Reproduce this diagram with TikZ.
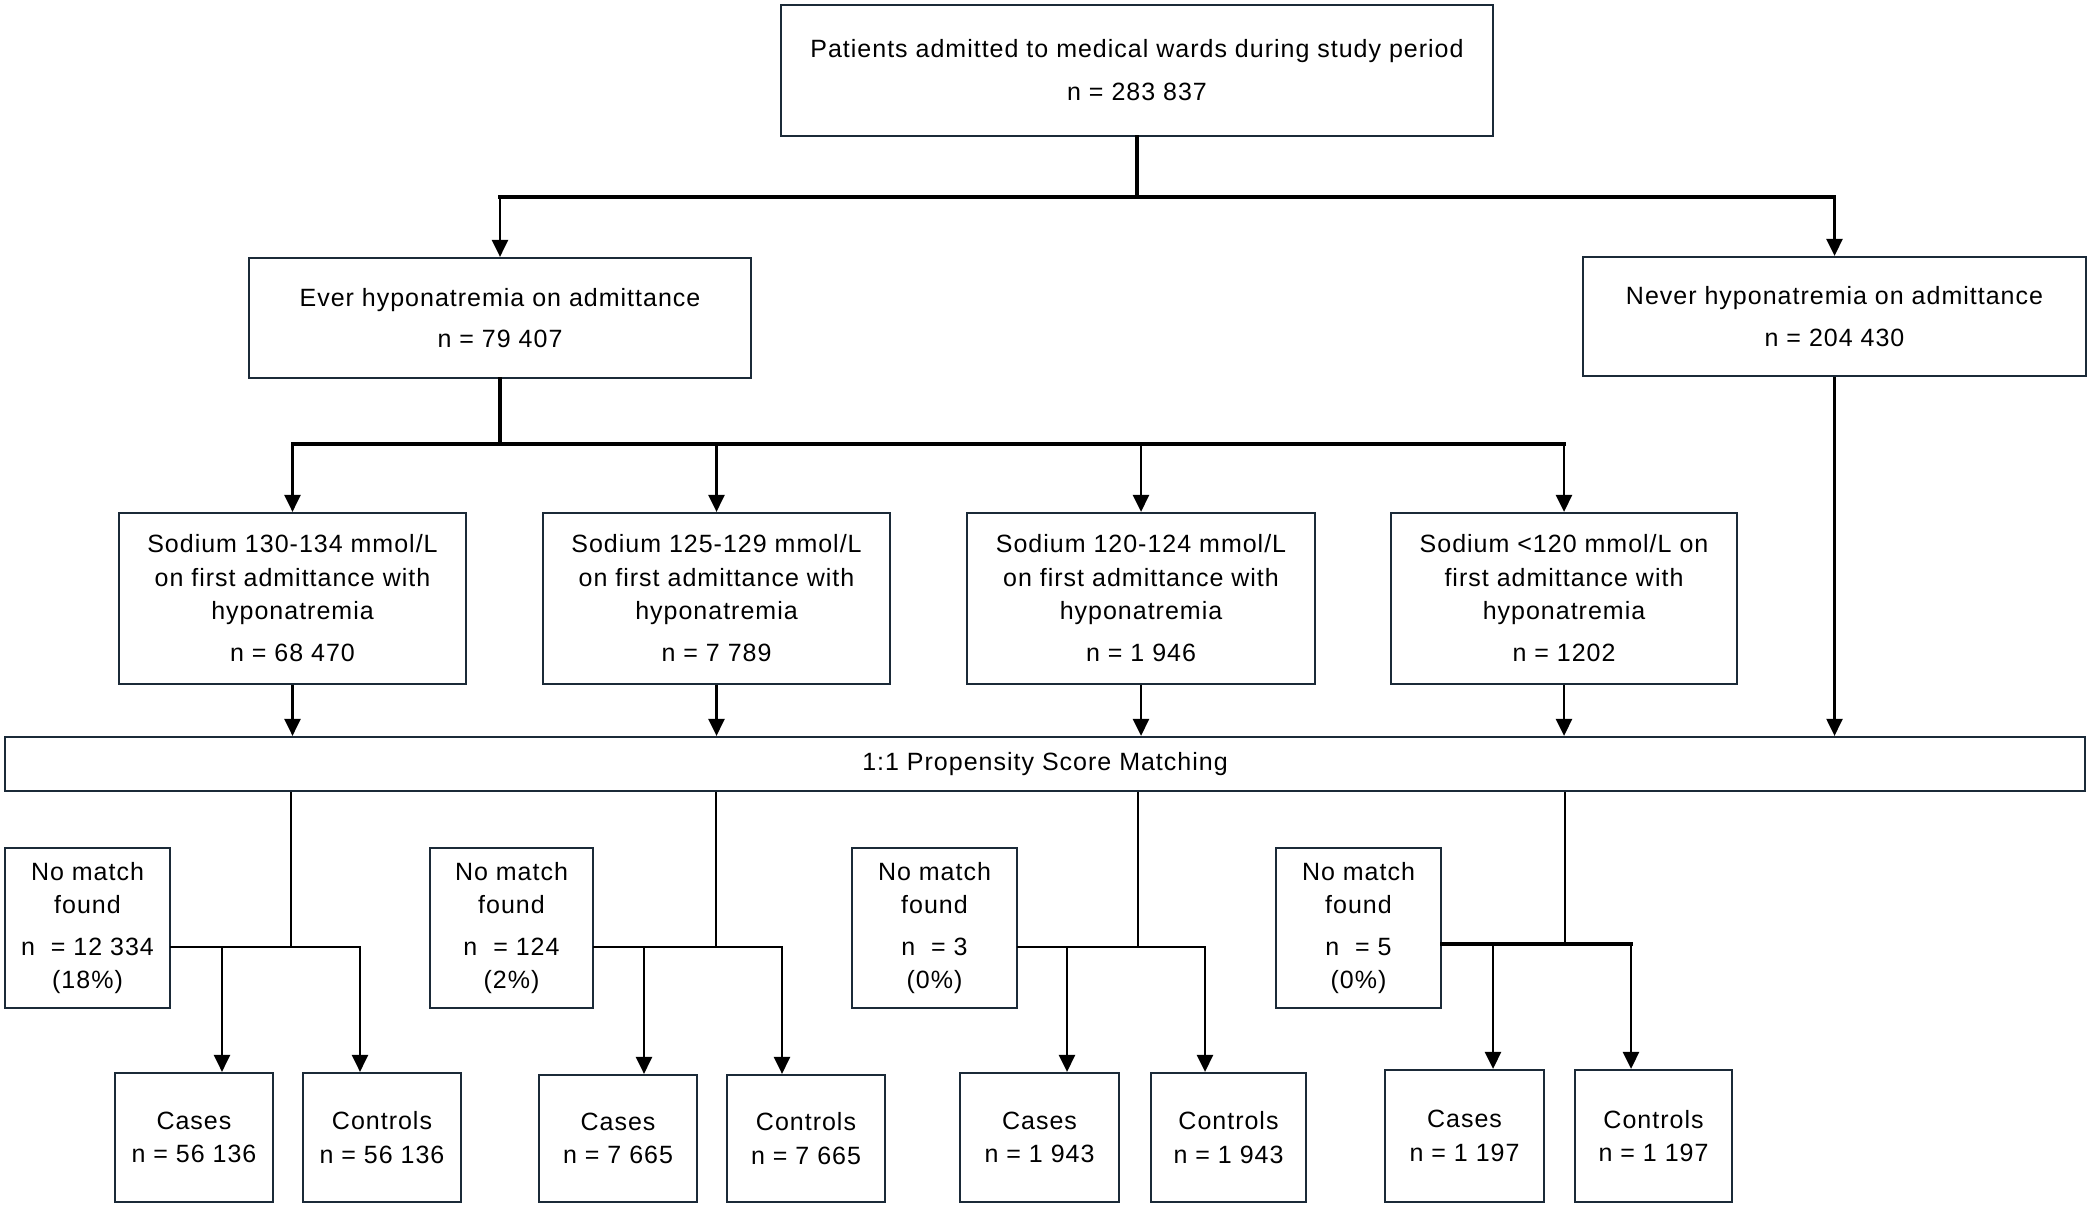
\documentclass[tikz,border=0pt]{standalone}
\usepackage{fontspec}
\setmainfont{Liberation Sans}[LetterSpace=4]
\usetikzlibrary{arrows.meta}
\definecolor{boxc}{HTML}{1B2A38}
\begin{document}
\begin{tikzpicture}[x=1pt,y=-1pt,
  box/.style={draw=boxc, line width=2.2pt, fill=white, inner sep=0pt, align=center,
    font=\fontsize{25}{33.5}\selectfont},
  conn/.style={line width=2.6pt, draw=black},
  arr/.style={conn, -{Triangle[length=17pt,width=16pt]}},
  bar/.style={line width=3.6pt, draw=black, line cap=rect},
]
\useasboundingbox (0,0) rectangle (2092,1207);

% top level
\node[box, minimum width=712pt, minimum height=131pt] (top) at (1137,70.5)
  {Patients admitted to medical wards during study period\\[9.5pt]n = 283 837};
\node[box, minimum width=502pt, minimum height=120pt] (ever) at (500,318)
  {Ever hyponatremia on admittance\\[7.5pt]n = 79 407};
\node[box, minimum width=503pt, minimum height=119pt] (never) at (1834.5,316.5)
  {Never hyponatremia on admittance\\[8.5pt]n = 204 430};

% sodium boxes
\node[box, minimum width=347pt, minimum height=171pt] (s1) at (292.5,598.5)
  {Sodium 130-134 mmol/L\\on first admittance with\\hyponatremia\\[8.5pt]n = 68 470};
\node[box, minimum width=347pt, minimum height=171pt] (s2) at (716.5,598.5)
  {Sodium 125-129 mmol/L\\on first admittance with\\hyponatremia\\[8.5pt]n = 7 789};
\node[box, minimum width=348pt, minimum height=171pt] (s3) at (1141,598.5)
  {Sodium 120-124 mmol/L\\on first admittance with\\hyponatremia\\[8.5pt]n = 1 946};
\node[box, minimum width=346pt, minimum height=171pt] (s4) at (1564,598.5)
  {Sodium <120 mmol/L on\\first admittance with\\hyponatremia\\[8.5pt]n = 1202};

% PSM
\node[box, minimum width=2080pt, minimum height=54pt] (psm) at (1045,764)
  {1:1 Propensity Score Matching};

% no match boxes
\node[box, minimum width=165pt, minimum height=160pt] (nm1) at (87.5,928)
  {No match\\found\\[8pt]n~ = 12 334\\(18\%)};
\node[box, minimum width=163pt, minimum height=160pt] (nm2) at (511.5,928)
  {No match\\found\\[8pt]n~ = 124\\(2\%)};
\node[box, minimum width=165pt, minimum height=160pt] (nm3) at (934.5,928)
  {No match\\found\\[8pt]n~ = 3\\(0\%)};
\node[box, minimum width=165pt, minimum height=160pt] (nm4) at (1358.5,928)
  {No match\\found\\[8pt]n~ = 5\\(0\%)};

% cases / controls
\node[box, minimum width=158pt, minimum height=129pt] (c1) at (194,1137.5) {Cases\\n = 56 136};
\node[box, minimum width=158pt, minimum height=129pt] (k1) at (382,1137.5) {Controls\\n = 56 136};
\node[box, minimum width=158pt, minimum height=127pt] (c2) at (618,1138.5) {Cases\\n = 7 665};
\node[box, minimum width=158pt, minimum height=127pt] (k2) at (806,1138.5) {Controls\\n = 7 665};
\node[box, minimum width=159pt, minimum height=129pt] (c3) at (1039.5,1137.5) {Cases\\n = 1 943};
\node[box, minimum width=155pt, minimum height=129pt] (k3) at (1228.5,1137.5) {Controls\\n = 1 943};
\node[box, minimum width=159pt, minimum height=132pt] (c4) at (1464.5,1136) {Cases\\n = 1 197};
\node[box, minimum width=157pt, minimum height=132pt] (k4) at (1653.5,1136) {Controls\\n = 1 197};

% connectors: top split
\coordinate (b0) at (0,197);
\draw[bar] (top.south) -- (top.south |- b0);
\draw[bar] (ever.north |- b0) -- (never.north |- b0);
\draw[arr] (ever.north |- b0) -- (ever.north);
\draw[arr] (never.north |- b0) -- (never.north);

% ever split
\coordinate (b1) at (0,444);
\draw[bar] (ever.south) -- (ever.south |- b1);
\draw[bar] (s1.north |- b1) -- (s4.north |- b1);
\foreach \s in {s1,s2,s3,s4}{
  \draw[arr] (\s.north |- b1) -- (\s.north);
  \draw[arr] (\s.south) -- (\s.south |- psm.north);
}
\draw[arr, line width=2.2pt] (never.south) -- (never.south |- psm.north);

% matching branches
\coordinate (j1) at (291,947);  \coordinate (p1) at (222,947);  \coordinate (q1) at (360,947);
\coordinate (j2) at (716,947);  \coordinate (p2) at (644,947);  \coordinate (q2) at (782,947);
\coordinate (j3) at (1138,947); \coordinate (p3) at (1067,947); \coordinate (q3) at (1205,947);
\coordinate (j4) at (1565,944); \coordinate (p4) at (1493,944); \coordinate (q4) at (1631,944);
\foreach \i in {1,2,3}{
  \draw[conn] (j\i |- psm.south) -- (j\i);
  \draw[conn, line cap=rect] (nm\i.east |- j\i) -- (q\i);
}
\draw[conn] (j4 |- psm.south) -- (j4);
\draw[bar] (nm4.east |- j4) -- (q4);
\foreach \i in {1,2,3,4}{
  \draw[arr] (p\i) -- (p\i |- c\i.north);
  \draw[arr] (q\i) -- (q\i |- k\i.north);
}
\end{tikzpicture}
\end{document}
